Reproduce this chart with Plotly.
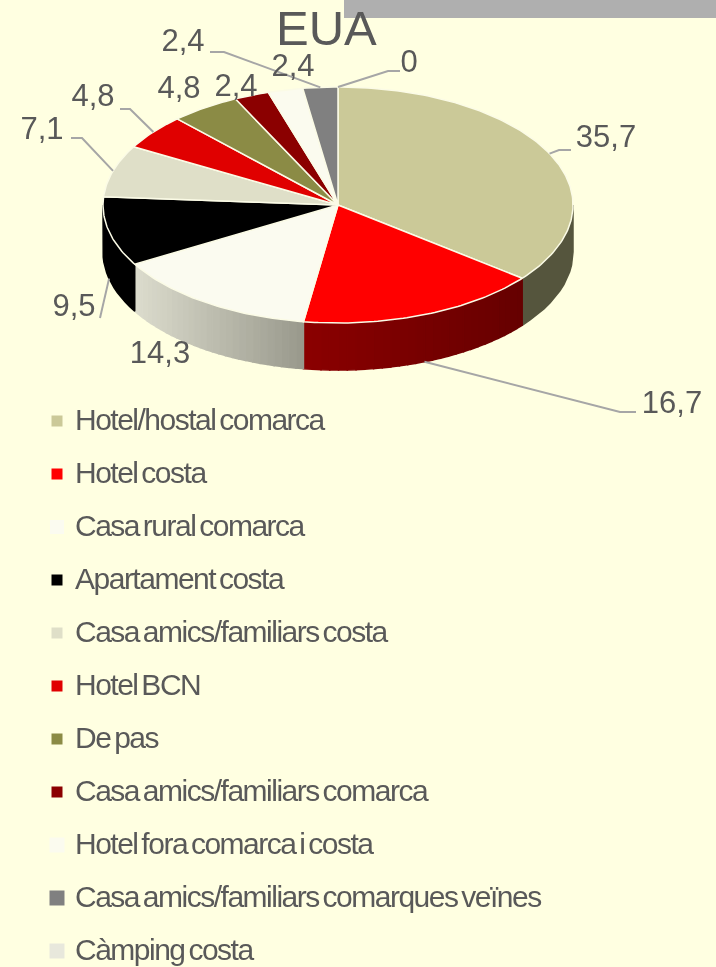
import math
import plotly.graph_objects as go

# ---- data ----
categories = ["Hotel/hostal comarca", "Hotel costa", "Casa rural comarca", "Apartament costa",
              "Casa amics/familiars costa", "Hotel BCN", "De pas", "Casa amics/familiars comarca",
              "Hotel fora comarca i costa", "Casa amics/familiars comarques veïnes", "Càmping costa"]
values = [35.7, 16.7, 14.3, 9.5, 7.1, 4.8, 4.8, 2.4, 2.4, 2.4, 0]
value_labels = ["35,7", "16,7", "14,3", "9,5", "7,1", "4,8", "4,8", "2,4", "2,4", "2,4", "0"]

# ---- style ----
colors = ["#CBC998", "#FF0000", "#FBFBF0", "#000000", "#DFDFC8", "#E00000", "#8B8B45",
          "#8B0000", "#FBFBEF", "#808080", "#E8E8DC"]
side_colors = [("#55553D", "#55553D"), ("#8B0000", "#660000"), ("#DCDCCD", "#99998C"), ("#000000", "#000000")]
BG = "#FFFFE1"
TEXT = "#595959"
LEADER = "#A6A6A6"
CX, CY, RX, RY, DEPTH = 338, 205, 235, 118, 47
label_xy = [(606, 139), (672, 405), (160, 355), (74, 308), (42, 131), (93, 98),
            (179, 90), (236, 88), (293, 68), (183, 43), (409, 64)]
# leader: elbow points after the anchor on the pie edge (None = no leader)
leader_pts = [[(559, 150), (571, 150)], [(620, 412), (636, 412)], None, [(100, 318)],
              [(82, 138), (71, 138)], [(130, 109), (120, 109)], None, None, None,
              [(224, 52), (210, 52)], [(388, 71), (400, 71)]]
legend_y0, legend_dy = 421, 53
legend_sizes = [11, 11, 14, 11, 11, 11, 11, 11, 15, 15, 15]


def px(t, dy=0, r=1.0):
    return CX + RX * r * math.sin(t), CY - RY * r * math.cos(t) + dy


def mix(c1, c2, f):
    a = [int(c1[i:i + 2], 16) for i in (1, 3, 5)]
    b = [int(c2[i:i + 2], 16) for i in (1, 3, 5)]
    return "rgb(%d,%d,%d)" % tuple(round(a[i] + (b[i] - a[i]) * f) for i in range(3))


total = sum(values)
edges = [0.0]
for v in values:
    edges.append(edges[-1] + v / total * 2 * math.pi)

fig = go.Figure()


def poly(xs, ys, fill, line=None, width=1):
    fig.add_trace(go.Scatter(x=xs, y=ys, mode="lines", fill="toself", fillcolor=fill,
                             line=dict(color=line or fill, width=width),
                             hoverinfo="skip", showlegend=False))


# sides: front half of the pie only
for i, sc in enumerate(side_colors):
    a = max(edges[i], math.pi / 2)
    b = min(edges[i + 1], 3 * math.pi / 2)
    n = 28 if sc[0] != sc[1] else 1
    x_left = px(b)[0]
    x_right = px(a)[0]
    for k in range(n):
        s = a + (b - a) * k / n
        e = a + (b - a) * (k + 1) / n
        ts = [s + (e - s) * j / 12 for j in range(13)]
        top = [px(t) for t in ts]
        bot = [px(t, DEPTH) for t in reversed(ts)]
        xm = px((s + e) / 2)[0]
        f = (xm - x_left) / (x_right - x_left)
        poly([p[0] for p in top + bot] + [top[0][0]], [p[1] for p in top + bot] + [top[0][1]],
             mix(sc[0], sc[1], f), width=1.5)

# top faces
for i, v in enumerate(values):
    if v == 0:
        continue
    n = max(4, int(v * 4))
    ts = [edges[i] + (edges[i + 1] - edges[i]) * j / n for j in range(n + 1)]
    pts = [(CX, CY)] + [px(t) for t in ts] + [(CX, CY)]
    poly([p[0] for p in pts], [p[1] for p in pts], colors[i], line="#FBFBE6", width=1.5)

# leader lines
for i, pts in enumerate(leader_pts):
    if pts is None:
        continue
    mid = (edges[i] + edges[i + 1]) / 2
    if values[i] == 0:
        mid = edges[i]
    front = math.pi / 2 < mid < 3 * math.pi / 2
    anchor = px(mid, DEPTH if front else 0)
    line = [anchor] + pts
    fig.add_trace(go.Scatter(x=[p[0] for p in line], y=[p[1] for p in line], mode="lines",
                             line=dict(color=LEADER, width=2), hoverinfo="skip", showlegend=False))

# value labels
fig.add_trace(go.Scatter(x=[p[0] for p in label_xy], y=[p[1] for p in label_xy], mode="text",
                         text=value_labels, textposition="middle center",
                         textfont=dict(family="Liberation Sans", size=31, color=TEXT),
                         hoverinfo="skip", showlegend=False))

# legend
leg_y = [legend_y0 + legend_dy * i for i in range(len(categories))]
fig.add_trace(go.Scatter(x=[57] * len(categories), y=leg_y, mode="markers",
                         marker=dict(symbol="square", size=legend_sizes, color=colors, opacity=1,
                                     line=dict(width=0)),
                         hoverinfo="skip", showlegend=False))
fig.add_trace(go.Scatter(x=[75] * len(categories), y=[y + 1 for y in leg_y], mode="text", text=categories,
                         textposition="middle right",
                         textfont=dict(family="Liberation Sans", size=30, color=TEXT),
                         hoverinfo="skip", showlegend=False))

fig.update_layout(
    width=716, height=967, autosize=False,
    margin=dict(l=0, r=0, t=0, b=0),
    paper_bgcolor=BG, plot_bgcolor=BG,
    xaxis=dict(range=[0, 716], visible=False, fixedrange=True),
    yaxis=dict(range=[967, 0], visible=False, fixedrange=True),
    shapes=[dict(type="rect", xref="x", yref="y", x0=344, x1=716, y0=0, y1=18,
                 fillcolor="#AFAFAF", line=dict(width=0), layer="below")],
    annotations=[dict(text="EUA", x=326, y=28, xref="x", yref="y", showarrow=False,
                      xanchor="center", yanchor="middle",
                      font=dict(family="Liberation Sans", size=49, color=TEXT))],
)

post = """
document.body.style.margin='0';
document.body.style.background='%s';
document.documentElement.style.overflow='hidden';
document.querySelectorAll('.textpoint text').forEach(function(t){
  if(t.textContent.length>4){t.style.letterSpacing='-1.5px';t.style.wordSpacing='-3px';}
});
document.querySelectorAll('.main-svg').forEach(function(s){s.style.filter='blur(0.6px)';});
""" % BG
fig.write_html("out.html", post_script=post, config={"displayModeBar": False})
